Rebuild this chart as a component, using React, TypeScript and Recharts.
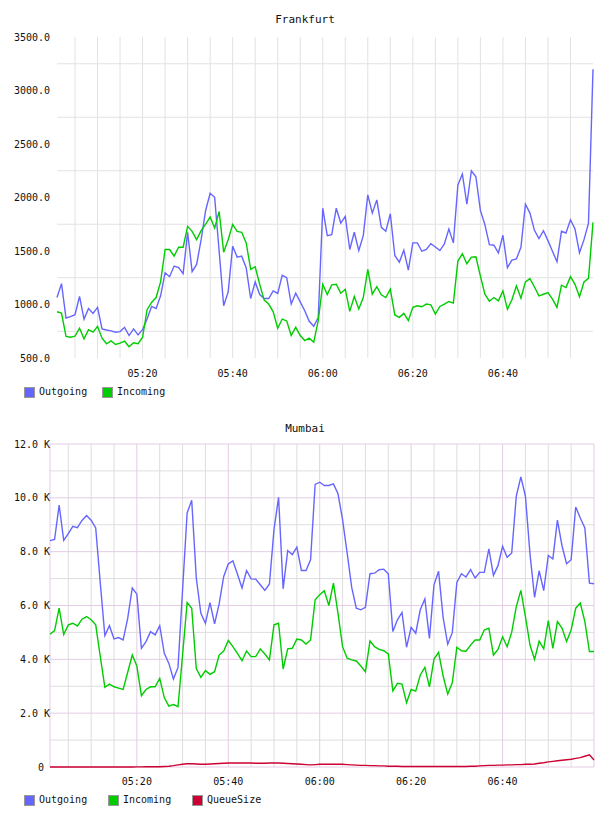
import React from 'react';
import { LineChart, Line, XAxis, YAxis, CartesianGrid } from 'recharts';

// ---- Data (minutes after 05:00, one point per minute) ----
const minutes: number[] = Array.from({ length: 120 }, (_, i) => i + 1);
const timeTicks = [20, 40, 60, 80, 100];

const frankfurtOutgoing = [
  1065, 1195, 874, 886, 905, 1075, 864, 963, 917, 973,
  772, 762, 753, 741, 747, 787, 710, 772, 716, 765,
  864, 982, 963, 1081, 1297, 1260, 1359, 1344, 1288, 1675,
  1307, 1375, 1606, 1879, 2039, 2002, 1498, 988, 1118, 1545,
  1443, 1452, 1344, 1056, 1211, 1093, 1056, 1056, 1127, 1103,
  1273, 1251, 1004, 1106, 1025, 942, 843, 796, 877, 1900,
  1644, 1653, 1900, 1761, 1823, 1514, 1675, 1504, 1644, 2024,
  1854, 1978, 1721, 1684, 1848, 1458, 1396, 1508, 1322, 1576,
  1576, 1498, 1514, 1569, 1538, 1504, 1566, 1705, 1576, 2117,
  2219, 1937, 2250, 2194, 1879, 1746, 1560, 1554, 1483, 1647,
  1344, 1415, 1427, 1535, 1937, 1854, 1693, 1616, 1690, 1597,
  1498, 1399, 1684, 1668, 1792, 1705, 1483, 1606, 1761, 3199,
];
const frankfurtIncoming = [
  932, 920, 701, 694, 704, 778, 679, 765, 741, 796,
  685, 633, 660, 626, 639, 657, 605, 642, 633, 694,
  951, 1019, 1065, 1211, 1514, 1514, 1452, 1535, 1535, 1730,
  1684, 1606, 1690, 1752, 1817, 1715, 1869, 1489, 1606, 1749,
  1684, 1675, 1576, 1328, 1353, 1189, 1041, 1004, 932, 778,
  864, 846, 710, 787, 710, 663, 685, 648, 849, 1189,
  1093, 1183, 1189, 1106, 1143, 936, 1075, 957, 1065, 1328,
  1096, 1167, 1090, 1065, 1143, 902, 880, 917, 849, 973,
  988, 979, 1004, 997, 911, 982, 1004, 1028, 1013, 1406,
  1474, 1381, 1443, 1446, 1266, 1096, 1031, 1065, 1034, 1127,
  957, 1044, 1174, 1059, 1211, 1242, 1164, 1081, 1096, 1112,
  1050, 973, 1180, 1158, 1260, 1189, 1072, 1211, 1245, 1767,
];

// Mumbai values in thousands (K)
const mumbaiOutgoing = [
  8.41, 8.45, 9.73, 8.42, 8.67, 8.94, 8.89, 9.16, 9.34, 9.17,
  8.88, 6.83, 4.88, 5.25, 4.76, 4.81, 4.72, 5.53, 6.65, 6.42,
  4.41, 4.66, 5.03, 4.91, 5.25, 4.22, 3.85, 3.27, 3.70, 6.58,
  9.44, 9.91, 7.02, 5.71, 5.34, 6.11, 5.32, 6.06, 7.08, 7.54,
  7.66, 7.17, 6.65, 7.30, 6.99, 6.98, 6.77, 6.56, 6.80, 8.82,
  10.02, 6.62, 8.04, 7.89, 8.17, 7.30, 7.30, 7.70, 10.50, 10.58,
  10.46, 10.46, 10.52, 10.15, 9.19, 7.95, 6.67, 5.90, 5.84, 5.93,
  7.18, 7.20, 7.33, 7.35, 7.18, 5.03, 5.47, 5.74, 4.45, 5.19,
  4.97, 5.84, 6.24, 4.78, 6.77, 7.27, 5.55, 4.56, 4.99, 6.86,
  7.18, 7.06, 7.33, 7.02, 7.23, 7.23, 8.10, 7.12, 7.48, 8.20,
  7.79, 7.95, 10.06, 10.78, 10.06, 7.91, 6.30, 7.29, 6.55, 7.86,
  7.73, 9.17, 8.22, 7.55, 7.70, 9.66, 9.25, 8.88, 6.83, 6.81,
];
const mumbaiIncoming = [
  4.93, 5.07, 5.90, 4.92, 5.28, 5.34, 5.24, 5.49, 5.59, 5.47,
  5.28, 4.10, 2.96, 3.08, 2.98, 2.93, 2.88, 3.52, 4.16, 3.75,
  2.65, 2.88, 2.98, 2.98, 3.29, 2.58, 2.26, 2.32, 2.24, 4.16,
  6.11, 5.90, 3.66, 3.33, 3.58, 3.44, 3.54, 4.16, 4.31, 4.70,
  4.47, 4.22, 3.95, 4.31, 4.10, 4.10, 4.39, 4.20, 3.98, 5.28,
  5.34, 3.64, 4.39, 4.41, 4.75, 4.72, 4.57, 4.72, 6.21, 6.40,
  6.55, 6.00, 6.83, 5.71, 4.47, 4.04, 3.98, 3.94, 3.75, 3.54,
  4.68, 4.47, 4.37, 4.32, 4.20, 2.83, 3.11, 3.08, 2.39, 2.88,
  2.82, 3.42, 3.70, 2.98, 4.01, 4.26, 3.38, 2.71, 3.13, 4.45,
  4.32, 4.30, 4.53, 4.72, 4.72, 5.09, 5.16, 4.16, 4.37, 4.84,
  4.47, 5.01, 5.96, 6.56, 5.59, 4.53, 4.00, 4.68, 4.39, 5.44,
  4.41, 5.40, 5.16, 4.66, 5.09, 5.90, 6.09, 5.40, 4.29, 4.29,
];
const mumbaiQueueSize = [
  0, 0, 0, 0, 0, 0, 0, 0, 0, 0,
  0, 0, 0, 0, 0, 0, 0, 0, 0, 0.005,
  0.005, 0.01, 0.01, 0.01, 0.01, 0.02, 0.03, 0.05, 0.08, 0.1,
  0.12, 0.12, 0.11, 0.1, 0.1, 0.11, 0.12, 0.13, 0.14, 0.15,
  0.15, 0.15, 0.15, 0.15, 0.15, 0.14, 0.14, 0.14, 0.15, 0.15,
  0.15, 0.14, 0.13, 0.12, 0.11, 0.1, 0.09, 0.08, 0.09, 0.1,
  0.1, 0.1, 0.1, 0.1, 0.1, 0.09, 0.08, 0.07, 0.06, 0.06,
  0.05, 0.05, 0.04, 0.04, 0.03, 0.03, 0.03, 0.02, 0.02, 0.02,
  0.02, 0.02, 0.02, 0.02, 0.02, 0.02, 0.02, 0.02, 0.02, 0.02,
  0.02, 0.02, 0.03, 0.03, 0.04, 0.05, 0.06, 0.06, 0.07, 0.07,
  0.08, 0.08, 0.09, 0.09, 0.1, 0.1, 0.11, 0.14, 0.16, 0.19,
  0.21, 0.23, 0.25, 0.27, 0.29, 0.32, 0.35, 0.4, 0.45, 0.26,
];

const frankfurtTicks = [500, 1000, 1500, 2000, 2500, 3000, 3500];
const frankfurtGridY = [750, 1250, 1750, 2250, 2750, 3250];
const mumbaiTicks = [0, 2, 4, 6, 8, 10, 12];
const mumbaiMinorGridY = [1, 3, 5, 7, 9, 11];
const mumbaiMajorGridY = [0, 2, 4, 6, 8, 10, 12];
const fiveMinuteGrid = [5, 10, 15, 20, 25, 30, 35, 40, 45, 50, 55, 60, 65, 70, 75, 80, 85, 90, 95, 100, 105, 110, 115];
const mumbaiMinorGridX = [5, 10, 15, 25, 30, 35, 45, 50, 55, 65, 70, 75, 85, 90, 95, 105, 110, 115];
const mumbaiMajorGridX = [1, 20, 40, 60, 80, 100, 120];

const frankfurtData = minutes.map((m, i) => ({ m, out: frankfurtOutgoing[i], inc: frankfurtIncoming[i] }));
const mumbaiData = minutes.map((m, i) => ({ m, out: mumbaiOutgoing[i], inc: mumbaiIncoming[i], q: mumbaiQueueSize[i] }));

const FONT = '"DejaVu Sans Mono", monospace';
const C_OUT = '#6666ff';
const C_IN = '#00cc00';
const C_Q = '#cc0033';

const fmtTime = (m: number) => {
  const h = 5 + Math.floor(m / 60);
  const mm = m % 60;
  return `0${h}:${String(mm).padStart(2, '0')}`;
};

const makeXTick = (baseline: number) => (props: any) => {
  const { x, payload } = props;
  return (
    <text x={x} y={baseline} textAnchor="middle" fontFamily={FONT} fontSize={10} fill="#111">
      {fmtTime(payload.value)}
    </text>
  );
};

const FrankfurtYTick = (props: any) => {
  const { y, payload } = props;
  return (
    <text x={50} y={y} dy="0.355em" textAnchor="end" fontFamily={FONT} fontSize={10} fill="#111">
      {Number(payload.value).toFixed(1)}
    </text>
  );
};

const MumbaiYTick = (props: any) => {
  const { y, payload } = props;
  const v = Number(payload.value);
  return (
    <text x={v === 0 ? 44 : 50} y={y} dy="0.355em" textAnchor="end" fontFamily={FONT} fontSize={10} fill="#111">
      {v === 0 ? '0' : `${v.toFixed(1)} K`}
    </text>
  );
};

const LegendItem = ({ left, top, color, label }: { left: number; top: number; color: string; label: string }) => (
  <div style={{ position: 'absolute', left, top, height: 12, display: 'flex', alignItems: 'center' }}>
    <div style={{ width: 9, height: 9, background: color, border: '1px solid #999' }} />
    <span style={{ marginLeft: 4, fontFamily: FONT, fontSize: 10, color: '#111', lineHeight: '12px' }}>{label}</span>
  </div>
);

const Title = ({ top, text }: { top: number; text: string }) => (
  <div style={{ position: 'absolute', left: 0, width: 610, top, textAlign: 'center', fontFamily: FONT, fontSize: 11, color: '#111', lineHeight: '14px' }}>
    {text}
  </div>
);

export default function App() {
  return (
    <div style={{ position: 'absolute', left: 0, top: 0, width: 608, height: 816, background: '#fff' }}>
      <Title top={13} text="Frankfurt" />
      <div style={{ position: 'absolute', left: 0, top: 0 }}>
        <LineChart width={608} height={410} data={frankfurtData} margin={{ top: 37, right: 15, bottom: 22, left: 0 }}>
          <CartesianGrid stroke="#e2e2e2" horizontalValues={frankfurtGridY} verticalValues={fiveMinuteGrid} />
          <XAxis dataKey="m" type="number" domain={[1, 120]} ticks={timeTicks} interval={0} axisLine={false} tickLine={false} height={30} tick={makeXTick(377)} />
          <YAxis type="number" domain={[500, 3500]} ticks={frankfurtTicks} interval={0} axisLine={false} tickLine={false} width={57} tick={FrankfurtYTick} />
          <Line type="linear" dataKey="out" stroke={C_OUT} strokeWidth={1.4} dot={false} activeDot={false} isAnimationActive={false} />
          <Line type="linear" dataKey="inc" stroke={C_IN} strokeWidth={1.4} dot={false} activeDot={false} isAnimationActive={false} />
        </LineChart>
      </div>
      <LegendItem left={24} top={386} color={C_OUT} label="Outgoing" />
      <LegendItem left={102} top={386} color={C_IN} label="Incoming" />

      <Title top={422} text="Mumbai" />
      <div style={{ position: 'absolute', left: 0, top: 410 }}>
        <LineChart width={608} height={406} data={mumbaiData} margin={{ top: 34, right: 14, bottom: 19, left: 0 }}>
          <CartesianGrid stroke="#dedede" horizontalValues={mumbaiMinorGridY} verticalValues={mumbaiMinorGridX} />
          <CartesianGrid stroke="#e4cce4" horizontalValues={mumbaiMajorGridY} verticalValues={mumbaiMajorGridX} />
          <XAxis dataKey="m" type="number" domain={[1, 120]} ticks={timeTicks} interval={0} axisLine={false} tickLine={false} height={30} tick={makeXTick(375)} />
          <YAxis type="number" domain={[0, 12]} ticks={mumbaiTicks} interval={0} axisLine={false} tickLine={false} width={50} tick={MumbaiYTick} />
          <Line type="linear" dataKey="out" stroke={C_OUT} strokeWidth={1.4} dot={false} activeDot={false} isAnimationActive={false} />
          <Line type="linear" dataKey="inc" stroke={C_IN} strokeWidth={1.4} dot={false} activeDot={false} isAnimationActive={false} />
          <Line type="linear" dataKey="q" stroke={C_Q} strokeWidth={1.4} dot={false} activeDot={false} isAnimationActive={false} />
        </LineChart>
      </div>
      <LegendItem left={24} top={794} color={C_OUT} label="Outgoing" />
      <LegendItem left={108} top={794} color={C_IN} label="Incoming" />
      <LegendItem left={192} top={794} color={C_Q} label="QueueSize" />
    </div>
  );
}
